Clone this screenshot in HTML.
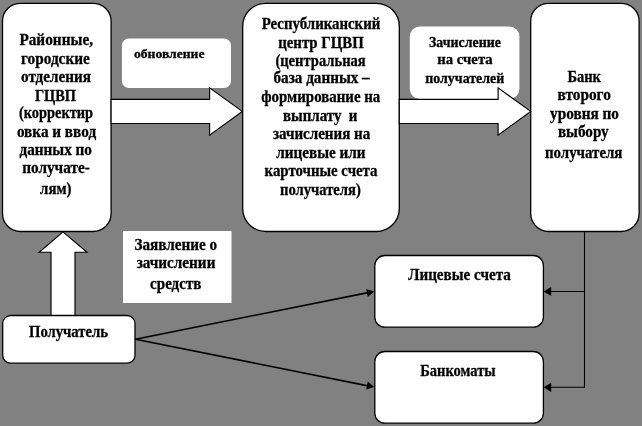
<!DOCTYPE html>
<html><head><meta charset="utf-8"><title>Схема</title>
<style>
html,body{margin:0;padding:0;background:#818181;}
body{width:642px;height:426px;overflow:hidden;font-family:"Liberation Serif",serif;}
svg{display:block;}
.bx{fill:#fff;stroke:#000;stroke-width:1.3;}
.ar{fill:#fff;stroke:#000;stroke-width:1.15;stroke-linejoin:miter;}
.lb{fill:#fff;stroke:none;}
.ln{fill:none;stroke:#000;stroke-width:1.6;}
.ah{fill:#000;stroke:none;}
text{font-family:"Liberation Serif",serif;font-weight:bold;fill:#000;stroke:#000;stroke-width:0.3;stroke-linejoin:round;}
.tx{filter:url(#sb);}
</style></head><body>
<svg width="642" height="426" viewBox="0 0 642 426">
<defs><filter id="sb" x="-2%" y="-2%" width="104%" height="104%"><feGaussianBlur stdDeviation="0.5 0"/></filter></defs>
<rect x="0" y="0" width="642" height="426" fill="#818181"/>
<!-- label boxes -->
<rect class="lb" x="121.9" y="38.5" width="109.1" height="49.5" rx="7"/>
<rect class="lb" x="409.8" y="26.6" width="109.6" height="72.4" rx="10"/>
<rect class="lb" x="123" y="231" width="108.5" height="72"/>
<!-- main boxes -->
<rect class="bx" x="2.5" y="3.3" width="108.6" height="228.2" rx="18"/>
<rect class="bx" x="242.7" y="3.3" width="156.6" height="228.2" rx="23"/>
<rect class="bx" x="530.7" y="3.3" width="108.4" height="228.2" rx="18"/>
<rect class="bx" x="374.8" y="255.5" width="168.6" height="71.7" rx="10"/>
<rect class="bx" x="374.8" y="351.5" width="168.6" height="71.7" rx="10"/>
<!-- block arrows -->
<polygon class="ar" points="111.1,99.4 209.6,99.4 209.6,87.8 242.3,111.4 209.6,135.1 209.6,123.5 111.1,123.5"/>
<polygon class="ar" points="399.3,99.4 498.1,99.4 498.1,87.9 530.7,111.4 498.1,135.1 498.1,123.5 399.3,123.5"/>
<polygon class="ar" points="51,315.5 51,252.2 39.2,252.2 63,231.9 87,252.2 75,252.2 75,315.5"/>
<rect class="bx" x="2.7" y="315.5" width="132.3" height="47.7" rx="8"/>
<!-- connectors -->
<line class="ln" x1="135.5" y1="339.2" x2="368" y2="292.6"/>
<line class="ln" x1="135.5" y1="339.2" x2="368" y2="385.9"/>
<polygon class="ah" points="374.2,291.4 366.2,288.9 367.8,296.9"/>
<polygon class="ah" points="374.2,387.1 367.8,381.6 366.2,389.6"/>
<line class="ln" x1="584.5" y1="231.5" x2="584.5" y2="387.9" style="stroke-width:1.1"/>
<line class="ln" x1="584.5" y1="291.5" x2="550" y2="291.5" style="stroke-width:1.1"/>
<line class="ln" x1="584.5" y1="387.3" x2="550" y2="387.3" style="stroke-width:1.1"/>
<polygon class="ah" points="543.6,291.5 551.2,286.9 551.2,296.1"/>
<polygon class="ah" points="543.6,387.3 551.2,382.7 551.2,391.9"/>
<!-- text -->
<g class="tx">
<text x="19.4" y="44.8" font-size="16" textLength="73.6" lengthAdjust="spacingAndGlyphs" xml:space="preserve">Районные,</text>
<text x="21.0" y="63.8" font-size="16" textLength="68.8" lengthAdjust="spacingAndGlyphs" xml:space="preserve">городские</text>
<text x="21.0" y="81.8" font-size="16" textLength="69.9" lengthAdjust="spacingAndGlyphs" xml:space="preserve">отделения</text>
<text x="34.9" y="100.8" font-size="16" textLength="41.1" lengthAdjust="spacingAndGlyphs" xml:space="preserve">ГЦВП</text>
<text x="19.0" y="118.1" font-size="16" textLength="74.0" lengthAdjust="spacingAndGlyphs" xml:space="preserve">(корректир</text>
<text x="16.9" y="136.6" font-size="16" textLength="79.2" lengthAdjust="spacingAndGlyphs" xml:space="preserve">овка и ввод</text>
<text x="19.6" y="155.0" font-size="16" textLength="72.3" lengthAdjust="spacingAndGlyphs" xml:space="preserve">данных по</text>
<text x="22.2" y="173.0" font-size="16" textLength="67.6" lengthAdjust="spacingAndGlyphs" xml:space="preserve">получате-</text>
<text x="40.1" y="193.8" font-size="16" textLength="31.3" lengthAdjust="spacingAndGlyphs" xml:space="preserve">лям)</text>
<text x="261.7" y="28.8" font-size="16" textLength="118.6" lengthAdjust="spacingAndGlyphs" xml:space="preserve">Республиканский</text>
<text x="278.2" y="47.6" font-size="16" textLength="85.6" lengthAdjust="spacingAndGlyphs" xml:space="preserve">центр ГЦВП</text>
<text x="275.4" y="65.6" font-size="16" textLength="90.3" lengthAdjust="spacingAndGlyphs" xml:space="preserve">(центральная</text>
<text x="273.5" y="83.2" font-size="16" textLength="96.2" lengthAdjust="spacingAndGlyphs" xml:space="preserve">база данных –</text>
<text x="261.3" y="102.3" font-size="16" textLength="119.0" lengthAdjust="spacingAndGlyphs" xml:space="preserve">формирование на</text>
<text x="282.9" y="120.7" font-size="16" textLength="74.6" lengthAdjust="spacingAndGlyphs" xml:space="preserve">выплату  и</text>
<text x="273.0" y="139.4" font-size="16" textLength="97.2" lengthAdjust="spacingAndGlyphs" xml:space="preserve">зачисления на</text>
<text x="276.3" y="157.5" font-size="16" textLength="89.2" lengthAdjust="spacingAndGlyphs" xml:space="preserve">лицевые или</text>
<text x="264.6" y="175.8" font-size="16" textLength="112.9" lengthAdjust="spacingAndGlyphs" xml:space="preserve">карточные счета</text>
<text x="280.0" y="195.0" font-size="16" textLength="80.8" lengthAdjust="spacingAndGlyphs" xml:space="preserve">получателя)</text>
<text x="567.4" y="81.9" font-size="16" textLength="33.6" lengthAdjust="spacingAndGlyphs" xml:space="preserve">Банк</text>
<text x="557.6" y="100.0" font-size="16" textLength="53.2" lengthAdjust="spacingAndGlyphs" xml:space="preserve">второго</text>
<text x="550.1" y="118.8" font-size="16" textLength="68.9" lengthAdjust="spacingAndGlyphs" xml:space="preserve">уровня по</text>
<text x="557.9" y="136.9" font-size="16" textLength="50.8" lengthAdjust="spacingAndGlyphs" xml:space="preserve">выбору</text>
<text x="545.0" y="157.5" font-size="16" textLength="77.4" lengthAdjust="spacingAndGlyphs" xml:space="preserve">получателя</text>
<text x="134.0" y="58.4" font-size="13.33" textLength="70.5" lengthAdjust="spacingAndGlyphs" xml:space="preserve">обновление</text>
<text x="429.0" y="46.8" font-size="14.67" textLength="71.8" lengthAdjust="spacingAndGlyphs" xml:space="preserve">Зачисление</text>
<text x="437.3" y="63.7" font-size="14.67" textLength="55.4" lengthAdjust="spacingAndGlyphs" xml:space="preserve">на счета</text>
<text x="425.3" y="82.5" font-size="14.67" textLength="78.9" lengthAdjust="spacingAndGlyphs" xml:space="preserve">получателей</text>
<text x="134.5" y="249.6" font-size="16" textLength="82.5" lengthAdjust="spacingAndGlyphs" xml:space="preserve">Заявление о</text>
<text x="136.7" y="267.5" font-size="16" textLength="78.7" lengthAdjust="spacingAndGlyphs" xml:space="preserve">зачислении</text>
<text x="150.1" y="288.5" font-size="16" textLength="51.3" lengthAdjust="spacingAndGlyphs" xml:space="preserve">средств</text>
<text x="29.0" y="336.5" font-size="16" textLength="79.0" lengthAdjust="spacingAndGlyphs" xml:space="preserve">Получатель</text>
<text x="408.2" y="279.8" font-size="16" textLength="102.6" lengthAdjust="spacingAndGlyphs" xml:space="preserve">Лицевые счета</text>
<text x="420.3" y="375.8" font-size="16" textLength="75.3" lengthAdjust="spacingAndGlyphs" xml:space="preserve">Банкоматы</text>
</g>
</svg>
</body></html>
